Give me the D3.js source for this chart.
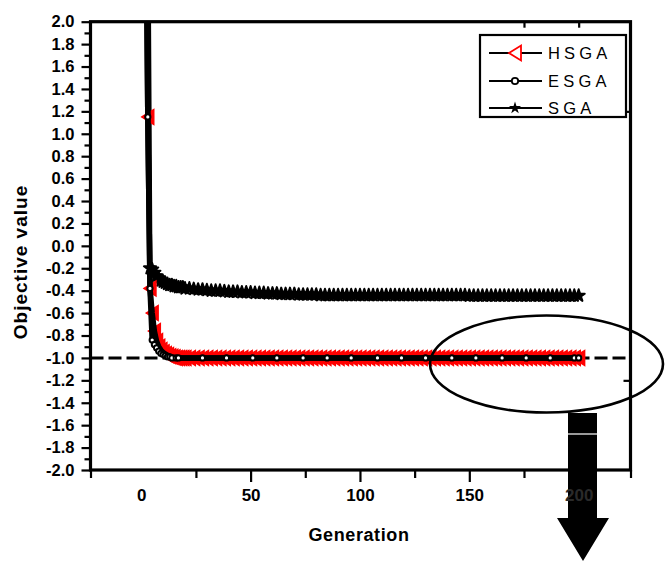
<!DOCTYPE html>
<html><head><meta charset="utf-8">
<script src="https://cdn.jsdelivr.net/npm/d3@7"></script>
<style>body{margin:0;background:#fff}svg{display:block}</style>
</head><body><svg id="c" width="665" height="565"></svg>
<script>
// ---------- data ----------
const gens = [1,3,4,5,6,7,8,9,10,11,12,13,14,15,16,17,18,19,20,
  22,24,26,28,30,32,34,36,38,40,
  42,44,46,48,50,52,54,56,58,60,
  62,64,66,68,70,72,74,76,78,80,
  82,84,86,88,90,92,94,96,98,100,
  102,104,106,108,110,112,114,116,118,120,
  122,124,126,128,130,132,134,136,138,140,
  142,144,146,148,150,152,154,156,158,160,
  162,164,166,168,170,172,174,176,178,180,
  182,184,186,188,190,192,194,196,198,200];
const hsgaValues = [6.0,1.15,-0.38,-0.6,-0.76,-0.85,-0.9,-0.93,-0.95,-0.965,-0.975,-0.985,-0.99,-0.995,-1.0,-1.0,-1.0,-1.0,-1.0,
  -1.0,-1.0,-1.0,-1.0,-1.0,-1.0,-1.0,-1.0,-1.0,-1.0,
  -1.0,-1.0,-1.0,-1.0,-1.0,-1.0,-1.0,-1.0,-1.0,-1.0,
  -1.0,-1.0,-1.0,-1.0,-1.0,-1.0,-1.0,-1.0,-1.0,-1.0,
  -1.0,-1.0,-1.0,-1.0,-1.0,-1.0,-1.0,-1.0,-1.0,-1.0,
  -1.0,-1.0,-1.0,-1.0,-1.0,-1.0,-1.0,-1.0,-1.0,-1.0,
  -1.0,-1.0,-1.0,-1.0,-1.0,-1.0,-1.0,-1.0,-1.0,-1.0,
  -1.0,-1.0,-1.0,-1.0,-1.0,-1.0,-1.0,-1.0,-1.0,-1.0,
  -1.0,-1.0,-1.0,-1.0,-1.0,-1.0,-1.0,-1.0,-1.0,-1.0,
  -1.0,-1.0,-1.0,-1.0,-1.0,-1.0,-1.0,-1.0,-1.0,-1.0];
const sgaValues = [6.5,3.2,-0.2,-0.21,-0.24,-0.27,-0.29,-0.31,-0.32,-0.33,-0.34,-0.35,-0.35,-0.36,-0.36,-0.37,-0.37,-0.37,-0.38,
  -0.38,-0.385,-0.39,-0.39,-0.395,-0.4,-0.4,-0.4,-0.405,-0.41,
  -0.41,-0.41,-0.415,-0.415,-0.415,-0.42,-0.42,-0.42,-0.425,-0.425,
  -0.425,-0.43,-0.43,-0.43,-0.43,-0.435,-0.435,-0.435,-0.435,-0.435,
  -0.44,-0.44,-0.44,-0.44,-0.44,-0.44,-0.44,-0.44,-0.44,-0.44,
  -0.44,-0.44,-0.44,-0.44,-0.44,-0.44,-0.44,-0.44,-0.44,-0.44,
  -0.44,-0.44,-0.44,-0.44,-0.44,-0.44,-0.44,-0.44,-0.44,-0.44,
  -0.44,-0.44,-0.44,-0.44,-0.445,-0.445,-0.445,-0.445,-0.445,-0.445,
  -0.445,-0.445,-0.445,-0.445,-0.445,-0.445,-0.445,-0.445,-0.445,-0.445,
  -0.445,-0.445,-0.445,-0.445,-0.445,-0.445,-0.445,-0.445,-0.445,-0.445];
const esgaGens = [1,3,4,5,6,7,8,9,10,11,12,13,14,16,17,28,39,51,62,74,85,96,108,119,130,142,153,165,176,187,198,200];
const esgaValues = [5.5,1.15,-0.38,-0.84,-0.88,-0.91,-0.94,-0.96,-0.97,-0.98,-0.99,-0.99,-1.0,-1.0,-1.0,
  -1.0,-1.0,-1.0,-1.0,-1.0,-1.0,-1.0,-1.0,-1.0,-1.0,-1.0,-1.0,-1.0,-1.0,-1.0,-1.0,-1.0];
const seriesNames = ["HSGA","ESGA","SGA"];
const yMajorTicks = [2.0,1.8,1.6,1.4,1.2,1.0,0.8,0.6,0.4,0.2,0.0,-0.2,-0.4,-0.6,-0.8,-1.0,-1.2,-1.4,-1.6,-1.8,-2.0];
const yTickLabels = ["2.0","1.8","1.6","1.4","1.2","1.0","0.8","0.6","0.4","0.2","0.0","-0.2","-0.4","-0.6","-0.8","-1.0","-1.2","-1.4","-1.6","-1.8","-2.0"];
const yMinorTicks = [1.9,1.7,1.5,1.3,1.1,0.9,0.7,0.5,0.3,0.1,-0.1,-0.3,-0.5,-0.7,-0.9,-1.1,-1.3,-1.5,-1.7,-1.9];
const yRightTicks = [1.2,-1.2];
const xLabelValues = [0,50,100,150,200];
const xMajorTicks = [50,100,150,200];
const xMinorTicks = [25,75,125,175];
const xTopTicks = [175,200];
const refValue = -1.0;
const xTitle = "Generation", yTitle = "Objective value";

// ---------- layout ----------
const L = 90.5, R = 630.5, T = 21.7, B = 470;
const svg = d3.select("#c");
const x = d3.scaleLinear().domain([-23.2, 223.7]).range([L, R]);
const y = d3.scaleLinear().domain([-2, 2]).range([B, T]);
const FONT = "'Liberation Sans', Arial, sans-serif";

svg.append("defs").append("clipPath").attr("id","clip")
  .append("rect").attr("x", L).attr("y", T).attr("width", R-L).attr("height", B-T);

// left axis ticks
const gL = svg.append("g").attr("transform", `translate(${L},0)`);
gL.call(d3.axisLeft(y).tickValues(yMajorTicks).tickSize(9).tickPadding(7)
  .tickFormat((d,i) => yTickLabels[i]));
gL.append("g").call(d3.axisLeft(y).tickValues(yMinorTicks).tickSize(6).tickFormat(""));
gL.selectAll(".domain").remove();
gL.selectAll("line").attr("stroke","#000").attr("stroke-width",2.2);
gL.selectAll("text").attr("font-family",FONT).attr("font-weight","bold").attr("font-size",16.5).attr("fill","#000");

// right axis ticks (inward)
const gR = svg.append("g").attr("transform", `translate(${R},0)`);
gR.call(d3.axisLeft(y).tickValues(yRightTicks).tickSize(7).tickFormat(""));
gR.selectAll(".domain").remove();
gR.selectAll("line").attr("stroke","#000").attr("stroke-width",2.2);

// bottom axis ticks
const gB = svg.append("g").attr("transform", `translate(0,${B})`);
gB.call(d3.axisBottom(x).tickValues(xMajorTicks).tickSize(12).tickFormat(""));
gB.append("g").call(d3.axisBottom(x).tickValues(xMinorTicks.concat(x.domain())).tickSize(8).tickFormat(""));
gB.selectAll(".domain").remove();
gB.selectAll("line").attr("stroke","#000").attr("stroke-width",2.2);

// top axis ticks (inward)
const gT = svg.append("g").attr("transform", `translate(0,${T})`);
gT.call(d3.axisBottom(x).tickValues(xTopTicks).tickSize(6).tickFormat(""));
gT.selectAll(".domain").remove();
gT.selectAll("line").attr("stroke","#000").attr("stroke-width",2.2);

// frame
svg.append("rect").attr("x",L).attr("y",T).attr("width",R-L).attr("height",B-T)
  .attr("fill","none").attr("stroke","#000").attr("stroke-width",3.2);

// reference dashed line
svg.append("line").attr("x1",L).attr("x2",R).attr("y1",y(refValue)).attr("y2",y(refValue))
  .attr("stroke","#000").attr("stroke-width",3).attr("stroke-dasharray","13,5");

const plot = svg.append("g").attr("clip-path","url(#clip)");
const line = d3.line().x(d => x(d[0])).y(d => y(d[1]));
const sgaData = gens.map((g,i) => [g, sgaValues[i]]);
const hsgaData = gens.map((g,i) => [g, hsgaValues[i]]);
const esgaData = esgaGens.map((g,i) => [g, esgaValues[i]]);

const star = d3.symbol(d3.symbolStar, 46)();
const tri = "M-6,0L6,-7.5L6,7.5Z";

// SGA
plot.append("path").attr("d", line(sgaData)).attr("fill","none").attr("stroke","#000").attr("stroke-width",5);
plot.selectAll(".sga").data(sgaData).join("path").attr("class","sga")
  .attr("d", star).attr("transform", d => `translate(${x(d[0])},${y(d[1])})`)
  .attr("fill","#000").attr("stroke","#000").attr("stroke-width",2).attr("stroke-linejoin","round");

// HSGA
plot.selectAll(".hsga").data(hsgaData).join("path").attr("class","hsga")
  .attr("d", tri).attr("transform", d => `translate(${x(d[0])},${y(d[1])})`)
  .attr("fill","#ff0000").attr("stroke","#ff0000").attr("stroke-width",1.4);
plot.append("path").attr("d", line(hsgaData)).attr("fill","none").attr("stroke","#000").attr("stroke-width",5.5);

// ESGA
plot.append("path").attr("d", line(esgaData)).attr("fill","none").attr("stroke","#000").attr("stroke-width",5.5);
plot.selectAll(".esga").data(esgaData).join("circle").attr("class","esga")
  .attr("cx", d => x(d[0])).attr("cy", d => y(d[1])).attr("r",2.6)
  .attr("fill","#fff").attr("stroke","#000").attr("stroke-width",2);

// legend
const lg = svg.append("g");
lg.append("rect").attr("x",480).attr("y",35).attr("width",146).attr("height",82)
  .attr("fill","#fff").attr("stroke","#000").attr("stroke-width",2.2);
const legY = [53, 81, 108];
seriesNames.forEach((name, i) => {
  const yy = legY[i];
  lg.append("line").attr("x1",489).attr("x2",542).attr("y1",yy).attr("y2",yy)
    .attr("stroke","#000").attr("stroke-width",2);
  if (i === 0) {
    lg.append("path").attr("d", tri).attr("transform",`translate(515,${yy})`)
      .attr("fill","#fff").attr("stroke","#ff0000").attr("stroke-width",1.8);
  } else if (i === 1) {
    lg.append("circle").attr("cx",515).attr("cy",yy).attr("r",3.2)
      .attr("fill","#fff").attr("stroke","#000").attr("stroke-width",1.8);
  } else {
    lg.append("path").attr("d", star).attr("transform",`translate(515,${yy})`).attr("fill","#000");
  }
  lg.append("text").attr("x",548).attr("y",yy+6).text(name)
    .attr("font-family",FONT).attr("font-size",16.5).attr("letter-spacing",4.2).attr("fill","#000");
});

// x tick labels
const gXL = svg.append("g").attr("transform", `translate(0,${B})`);
gXL.call(d3.axisBottom(x).tickValues(xLabelValues).tickSize(0).tickFormat(d3.format("d")));
gXL.selectAll(".domain").remove();
gXL.selectAll("text").attr("y",31).attr("dy",0).attr("font-family",FONT).attr("font-weight","bold")
  .attr("font-size",17).attr("fill","#000");

// annotation: ellipse and arrow
svg.append("ellipse").attr("cx",546.5).attr("cy",364).attr("rx",116.5).attr("ry",48.5)
  .attr("fill","none").attr("stroke","#000").attr("stroke-width",2.6);
svg.append("path").attr("d","M568,413L597,413L597,518L609,518L583,561L557,518L568,518Z").attr("fill","#000");
svg.append("line").attr("x1",568).attr("x2",597).attr("y1",434).attr("y2",434).attr("stroke","#fff").attr("stroke-width",1.2);
// the 200 label shows faintly on top of the arrow
gXL.raise();
gXL.selectAll("text").filter(d => d === 200).attr("fill","#2a2a2a");

// axis titles
svg.append("text").attr("x",359).attr("y",541).attr("text-anchor","middle").text(xTitle)
  .attr("font-family",FONT).attr("font-weight","bold").attr("font-size",18).attr("letter-spacing",0.6);
svg.append("text").attr("transform","translate(27,262) rotate(-90)").attr("text-anchor","middle").text(yTitle)
  .attr("font-family",FONT).attr("font-weight","bold").attr("font-size",19).attr("letter-spacing",1);
</script></body></html>
